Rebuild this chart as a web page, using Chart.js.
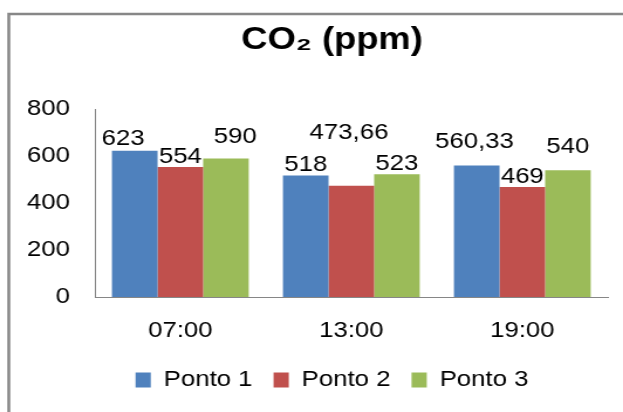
<!DOCTYPE html>
<html>
<head>
<meta charset="utf-8">
<title>CO2 (ppm)</title>
<script src="https://cdn.jsdelivr.net/npm/chart.js"></script>
<style>
  html, body { margin: 0; padding: 0; background: #fff; overflow: hidden; }
  /* the original picture is a bit wider than tall text would be, so stretch */
  #wrap { width: 532px; height: 412px; transform: scaleX(1.1711); transform-origin: 0 0; }
</style>
</head>
<body>
<div id="wrap"><canvas id="co2Chart"></canvas></div>
<script>
// chart data
var horarios = ["07:00", "13:00", "19:00"];
var ponto1 = [623, 518, 560.33];
var ponto2 = [554, 473.66, 469];
var ponto3 = [590, 523, 540];
var yTicks = [0, 200, 400, 600, 800];

var fontFamily = "'Liberation Sans', Arial, sans-serif";

// value labels above the bars (shift = [dx, extra lift] per bar, like the moved labels in the original)
var barLabels = {
  id: 'barLabels',
  afterDatasetsDraw: function(chart, args, opts) {
    var ctx = chart.ctx;
    ctx.save();
    ctx.font = "22px " + fontFamily;
    ctx.fillStyle = "#000";
    ctx.textAlign = "center";
    ctx.textBaseline = "alphabetic";
    chart.data.datasets.forEach(function(ds, d) {
      chart.getDatasetMeta(d).data.forEach(function(bar, i) {
        var s = opts.shift[d][i];
        var txt = String(ds.data[i]).replace(".", ",");
        ctx.fillText(txt, bar.x + s[0], bar.y - 4 - s[1]);
      });
    });
    ctx.restore();
  }
};

// white background and the grey frame
var frame = {
  id: 'frame',
  beforeDraw: function(chart) {
    var ctx = chart.ctx;
    ctx.save();
    ctx.fillStyle = "#fff";
    ctx.fillRect(0, 0, chart.width, chart.height);
    ctx.strokeStyle = "#878787";
    ctx.lineWidth = 2.5;
    ctx.strokeRect(7.5, 14, chart.width + 60, chart.height + 60);
    ctx.restore();
  }
};

const ctx = document.getElementById('co2Chart');

new Chart(ctx, {
  type: 'bar',
  data: {
    labels: horarios,
    datasets: [
      { label: 'Ponto 1', data: ponto1, backgroundColor: '#4F81BD' },
      { label: 'Ponto 2', data: ponto2, backgroundColor: '#C0504D' },
      { label: 'Ponto 3', data: ponto3, backgroundColor: '#9BBB59' }
    ]
  },
  plugins: [frame, barLabels],
  options: {
    responsive: true,
    maintainAspectRatio: false,
    animation: false,
    datasets: {
      bar: { categoryPercentage: 0.8, barPercentage: 1.0 }
    },
    layout: { padding: { top: 0, left: 48, right: 13, bottom: 11 } },
    plugins: {
      title: {
        display: true,
        text: 'CO₂ (ppm)',
        color: '#000',
        font: { family: fontFamily, size: 31, weight: 'bold' },
        padding: { top: 22, bottom: 50 }
      },
      legend: {
        position: 'bottom',
        labels: {
          color: '#000',
          font: { family: fontFamily, size: 22 },
          boxWidth: 13,
          boxHeight: 15,
          padding: 18
        }
      },
      tooltip: { enabled: false },
      barLabels: {
        shift: [
          [[-10, 2], [0, 0], [-2, 13]],
          [[0, 0], [-2, 43], [0, 0]],
          [[8, 11], [0, 0], [0, 13]]
        ]
      }
    },
    scales: {
      x: {
        grid: { display: false },
        border: { display: true, color: '#868686', width: 1 },
        ticks: { color: '#000', font: { family: fontFamily, size: 22 }, padding: 13 },
        afterFit: function(scale) { scale.height = 54; }
      },
      y: {
        min: yTicks[0],
        max: yTicks[yTicks.length - 1],
        grid: { display: false },
        border: { display: true, color: '#868686', width: 1 },
        // mirrored so the labels are not clipped to the narrow axis box,
        // then pulled back to the left of the axis line
        ticks: {
          color: '#000',
          font: { family: fontFamily, size: 22 },
          mirror: true,
          crossAlign: 'far',
          padding: -58
        },
        afterBuildTicks: function(axis) {
          axis.ticks = yTicks.map(function(v) { return { value: v }; });
        },
        afterFit: function(scale) { scale.width = 33; }
      }
    }
  }
});
</script>
</body>
</html>
